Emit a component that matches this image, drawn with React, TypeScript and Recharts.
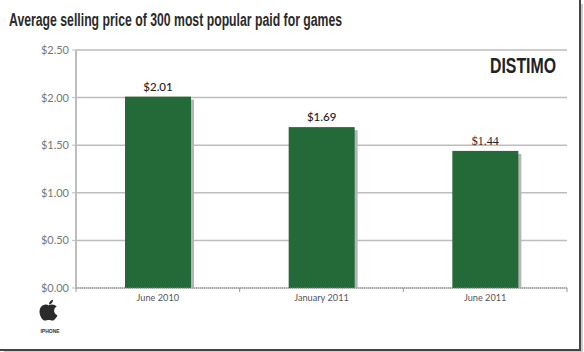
import { Bar, BarChart, CartesianGrid, LabelList, XAxis, YAxis } from 'recharts';

const months = ['June 2010', 'January 2011', 'June 2011'];
const prices = [2.01, 1.69, 1.44];
const priceTicks = [0, 0.5, 1, 1.5, 2, 2.5];

const chartData = months.map((month, index) => ({ month, price: prices[index] }));

const money = (value: number) => `$${value.toFixed(2)}`;
const BAND_WIDTH = 491 / 3;

// 右下に薄い影を付けた棒
const ShadowBar = ({ x, y, width, height }: any) => (
  <g>
    <rect x={x + 3} y={y + 3} width={width} height={height - 3} fill="#b5b5b5" />
    <rect x={x} y={y} width={width} height={height} fill="#236a38" />
  </g>
);

const MonthTick = ({ x, y, payload, index }: any) => (
  <g>
    <line x1={x - BAND_WIDTH / 2} x2={x - BAND_WIDTH / 2} y1={y - 8} y2={y - 4} stroke="#999" />
    {index === months.length - 1 && (
      <line x1={x + BAND_WIDTH / 2} x2={x + BAND_WIDTH / 2} y1={y - 8} y2={y - 4} stroke="#999" />
    )}
    <text x={x} y={y + 5} textAnchor="middle" fontSize={9.2} fontFamily="Lato, sans-serif" fill="#555">
      {payload.value}
    </text>
  </g>
);

const PriceLabel = ({ x, y, width, value, index }: any) => (
  <text
    x={x + width / 2}
    y={y - 6}
    textAnchor="middle"
    fontSize={index === 2 ? 12 : 11.5}
    fontFamily={index === 2 ? '"Liberation Serif", serif' : 'Lato, sans-serif'}
    fontWeight={index === 2 ? 400 : 500}
    fill="#222"
  >
    {money(value)}
  </text>
);

export default function App() {
  return (
    <div
      style={{
        position: 'absolute',
        left: 0,
        top: 0,
        width: 584,
        height: 352,
        background: '#fff',
        overflow: 'hidden',
      }}
    >
      <div
        style={{
          position: 'absolute',
          left: 9,
          top: 9,
          fontFamily: '"Liberation Sans", sans-serif',
          fontWeight: 700,
          fontSize: 17.5,
          lineHeight: '22px',
          color: '#2b2b2b',
          whiteSpace: 'nowrap',
          transform: 'scaleX(0.7)',
          transformOrigin: 'left top',
        }}
      >
        Average selling price of 300 most popular paid for games
      </div>

      <BarChart
        width={584}
        height={352}
        data={chartData}
        margin={{ top: 50, right: 17, bottom: 34, left: 0 }}
      >
        <CartesianGrid vertical={false} stroke="#bdbdbd" strokeWidth={1.5} />
        <YAxis
          width={76}
          domain={[0, 2.5]}
          ticks={priceTicks}
          tickFormatter={money}
          interval={0}
          axisLine={{ stroke: '#bdbdbd', strokeWidth: 2 }}
          tickLine={{ stroke: '#bdbdbd' }}
          tickSize={4}
          tickMargin={3}
          tick={{ fontSize: 11, fontFamily: 'Lato, sans-serif', fill: '#777' }}
        />
        <XAxis
          dataKey="month"
          axisLine={{ stroke: '#888', strokeDasharray: '1 1' }}
          tickLine={false}
          interval={0}
          tick={<MonthTick />}
        />
        <Bar dataKey="price" barSize={66} shape={<ShadowBar />} isAnimationActive={false}>
          <LabelList dataKey="price" content={<PriceLabel />} />
        </Bar>
      </BarChart>

      <div
        style={{
          position: 'absolute',
          left: 490,
          top: 54,
          fontFamily: '"Liberation Sans", sans-serif',
          fontWeight: 700,
          fontSize: 22,
          lineHeight: '24px',
          color: '#222',
          whiteSpace: 'nowrap',
          transform: 'scaleX(0.72)',
          transformOrigin: 'left top',
        }}
      >
        DISTIMO
      </div>

      <svg style={{ position: 'absolute', left: 38, top: 299 }} width={24} height={26} viewBox="0 0 24 26">
        <path
          d="M11 6.5c-1.5-.8-3-1.2-4.500-.8C3.500 6.400 1.500 9 1.500 12.500c0 3.800 2.300 8 4.600 8.900 1.600.6 2.900-.4 4.700-.4s3 1 4.600.4c1.700-.7 3.200-2.900 4-5.100-2.200-1-3.300-2.600-3.300-4.500 0-1.800 1-3.200 2.600-4.200-1.300-1.600-3-2.300-4.800-2.200-1.100.1-1.900.5-2.900.6z"
          fill="#2a2a2a"
        />
        <path d="M11 5.500c0-2.400 1.500-4.200 4-4.700.1 2.500-1.600 4.500-4 4.700z" fill="#2a2a2a" />
      </svg>
      <div
        style={{
          position: 'absolute',
          left: 38,
          top: 328,
          width: 24,
          textAlign: 'center',
          fontFamily: '"Liberation Sans", sans-serif',
          fontWeight: 700,
          fontSize: 5,
          lineHeight: '6px',
          color: '#333',
        }}
      >
        IPHONE
      </div>

      {/* 元画像の枠（右と下の濃い線） */}
      <div style={{ position: 'absolute', left: 0, top: 0, width: 579, height: 349, borderRight: '2px solid #444', borderBottom: '2px solid #444' }} />
      <div style={{ position: 'absolute', left: 581, top: 4, width: 2, height: 347, background: '#ccc' }} />
      <div style={{ position: 'absolute', left: 4, top: 351, width: 579, height: 1, background: '#ccc' }} />
    </div>
  );
}
